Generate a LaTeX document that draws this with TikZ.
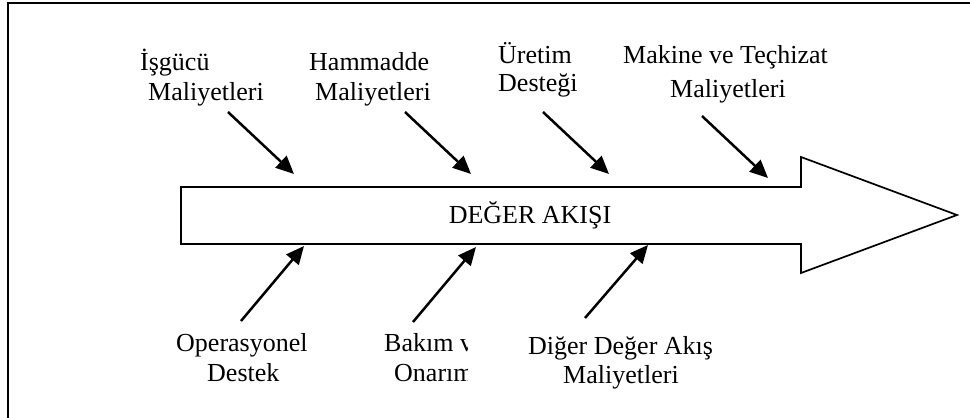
\documentclass[tikz,border=0pt]{standalone}
\usepackage{fontspec}
\setmainfont{Liberation Serif}
\usetikzlibrary{arrows.meta}
\begin{document}
\begin{tikzpicture}[x=1pt,y=-1pt,
  lbl/.style={inner sep=0pt,anchor=base west,font=\fontsize{26}{30}\selectfont},
  feed/.style={line width=2.5pt,-{Triangle[length=18pt,width=16pt]}}]
\useasboundingbox (0,0) rectangle (970,418);
% frame (only top and left edges visible)
\draw[line width=2pt] (8,418) -- (8,3) -- (970,3);
% big arrow
\draw[line width=1.7pt,fill=white] (181,187) -- (801,187) -- (801,157) -- (957,215)
  -- (801,273) -- (801,244) -- (181,244) -- cycle;
\node[lbl,anchor=base] (main) at (530,223) {DEĞER AKIŞI};
% top labels
\node[lbl] (t1a) at (140,70) {İşgücü};
\node[lbl] (t1b) at (148,100) {Maliyetleri};
\node[lbl] (t2a) at (309,70) {Hammadde};
\node[lbl] (t2b) at (315,100) {Maliyetleri};
\node[lbl] (t3a) at (498,63) {Üretim};
\node[lbl] (t3b) at (498,91) {Desteği};
\node[lbl] (t4a) at (623,63) {Makine ve Teçhizat};
\node[lbl] (t4b) at (670,97) {Maliyetleri};
% bottom labels
\node[lbl] (b1a) at (176,351) {Operasyonel};
\node[lbl] (b1b) at (207,381) {Destek};
\begin{scope}
\clip (370,320) rectangle (467,400);
\node[lbl] (b2a) at (384,351) {Bakım ve};
\node[lbl] (b2b) at (394,381) {Onarım};
\end{scope}
\node[lbl] (b3a) at (528,354) {Diğer Değer Akış};
\node[lbl] (b3b) at (563,383) {Maliyetleri};
% feeder arrows
\coordinate (s1) at (228,112); \coordinate (e1) at (294,174);
\coordinate (s2) at (405,112); \coordinate (e2) at (471,174);
\coordinate (s3) at (543,112); \coordinate (e3) at (609,174);
\coordinate (s4) at (702,116); \coordinate (e4) at (768,178);
\coordinate (s5) at (241,321); \coordinate (e5) at (304,246);
\coordinate (s6) at (413,322); \coordinate (e6) at (476,247);
\coordinate (s7) at (585,318); \coordinate (e7) at (648,245);
\draw[feed] (s1) -- (e1);
\draw[feed] (s2) -- (e2);
\draw[feed] (s3) -- (e3);
\draw[feed] (s4) -- (e4);
\draw[feed] (s5) -- (e5);
\draw[feed] (s6) -- (e6);
\draw[feed] (s7) -- (e7);
\end{tikzpicture}
\end{document}
